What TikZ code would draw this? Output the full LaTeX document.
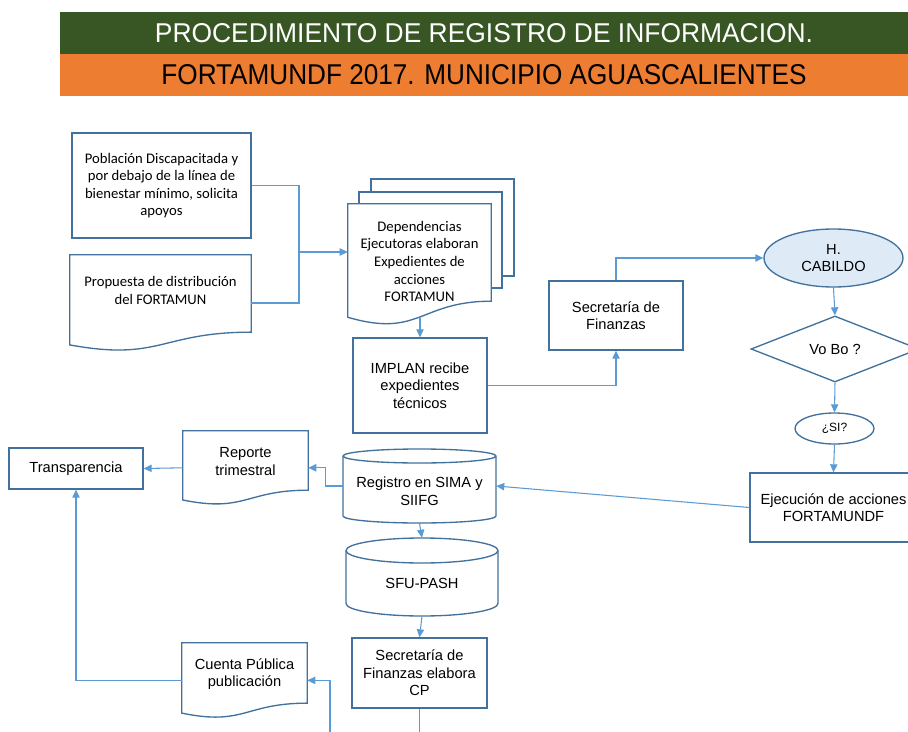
\documentclass[tikz,border=0pt]{standalone}
\usepackage{graphicx}
\usepackage{fontspec}
\setmainfont{Liberation Sans}
\newfontfamily\calfont{Carlito}
\usetikzlibrary{arrows.meta,calc,shapes.geometric}
\definecolor{bline}{HTML}{41719C}
\definecolor{cline}{HTML}{5B9BD5}
\definecolor{bgreen}{HTML}{375623}
\definecolor{borange}{HTML}{ED7D31}
\definecolor{cabfill}{HTML}{DEEBF7}
\newcommand\docshape[1]{\path[outline] (#1.north west) -- (#1.north east) -- ($(#1.north east)!0.802!(#1.south east)$) .. controls ($(#1.north)!0.802!(#1.south)$) and ($(#1.north)!1.107!(#1.south)$) .. ($(#1.north west)!0.934!(#1.south west)$) -- cycle;}
\newcommand\cylshape[5]{%
  \path[outline] (#1-#4,#2+#5) -- (#1-#4,#3-#5) arc[start angle=180,end angle=360,x radius=#4*0.75pt,y radius=#5*0.75pt] -- (#1+#4,#2+#5) arc[start angle=0,end angle=180,x radius=#4*0.75pt,y radius=#5*0.75pt] -- cycle;
  \draw[draw=bline,line width=1pt] (#1-#4,#2+#5) arc[start angle=180,end angle=360,x radius=#4*0.75pt,y radius=#5*0.75pt];}
\begin{document}
\begin{tikzpicture}[x=0.75pt,y=-0.75pt,
  sz/.style 2 args={minimum width=#1*0.75pt, minimum height=#2*0.75pt},
  box/.style={draw=bline, line width=1pt, fill=white, inner sep=0pt, align=center, font=\fontsize{11}{13.2}\selectfont},
  ghost/.style={inner sep=0pt, draw=none},
  outline/.style={draw=bline, line width=1pt, fill=white},
  txt/.style={inner sep=0pt, align=center, font=\fontsize{11}{13.2}\selectfont},
  caltxt/.style={inner sep=0pt, align=center, font=\calfont\fontsize{11}{13.2}\selectfont},
  conn/.style={draw=cline, line width=0.8pt},
  arr/.style={conn, -{Triangle[length=6pt,width=5.5pt]}},
  banner/.style={inner sep=0pt, sz={848}{42}},
]
\useasboundingbox (0,0) rectangle (908,732);
% header
\node[banner, fill=bgreen, text=white] (title) at (484,33) {\resizebox{493.5pt}{14.25pt}{PROCEDIMIENTO DE REGISTRO DE INFORMACION.}};
\node[banner, fill=borange, text=black] (subtitle) at (484,75) {\resizebox{483.75pt}{15pt}{FORTAMUNDF 2017. MUNICIPIO AGUASCALIENTES}};
% left inputs
\node[box, sz={179}{105}, font=\calfont\fontsize{11}{13.2}\selectfont] (pob) at (161.5,185.5) {Población Discapacitada y\\por debajo de la línea de\\bienestar mínimo, solicita\\apoyos};
\node[ghost, sz={181}{96}] (prop) at (160.5,303) {};
\docshape{prop}
\node[caltxt] (propt) at (160.5,290.5) {Propuesta de distribución\\del FORTAMUN};
% multidocument
\draw[outline] (371,179) rectangle (514,276);
\draw[outline] (359,192) rectangle (502,288);
\node[ghost, sz={143}{121}] (dep) at (419.5,264.5) {};
\docshape{dep}
\node[caltxt] (dept) at (419.5,261.5) {Dependencias\\Ejecutoras elaboran\\Expedientes de\\acciones\\FORTAMUN};
% IMPLAN and Secretaria
\node[box, sz={134}{95}] (implan) at (420,385.5) {IMPLAN recibe\\expedientes\\técnicos};
\node[box, sz={134}{69}] (secf) at (616,315.5) {Secretaría de\\Finanzas};
% right column
\node[box, ellipse, fill=cabfill, sz={139}{58}] (cab) at (833.5,258) {H.\\CABILDO};
\node[box, diamond, sz={168}{66}] (vobo) at (835,349) {Vo Bo ?};
\node[box, ellipse, sz={79}{31}, font=\fontsize{9}{11}\selectfont] (si) at (834.5,428.5) {¿SI?};
\node[box, sz={167}{69}] (ejec) at (833.5,507.5) {Ejecución de acciones\\FORTAMUNDF};
% Registro cylinder
\node[ghost, sz={153}{74}] (reg) at (419.5,486) {};
\cylshape{419.5}{449}{523}{76.5}{7}
\node[txt] (regt) at (419.5,491.5) {Registro en SIMA y\\SIIFG};
% SFU cylinder
\node[ghost, sz={152}{78}] (sfu) at (422,577) {};
\cylshape{422}{538}{616}{76}{12.5}
\node[txt] (sfut) at (422,583) {SFU-PASH};
% CP
\node[box, sz={135}{70}] (cp) at (419.5,673) {Secretaría de\\Finanzas elabora\\CP};
% reports
\node[ghost, sz={125}{73.6}] (rep) at (245.5,467.8) {};
\docshape{rep}
\node[txt] (rept) at (245.5,461.5) {Reporte\\trimestral};
\node[box, sz={134}{41}] (transp) at (76,468.5) {Transparencia};
\node[ghost, sz={125}{74.8}] (cuenta) at (244.5,680.4) {};
\docshape{cuenta}
\node[txt] (cuentat) at (244.5,674) {Cuenta Pública\\publicación};
% connectors
\coordinate (jn) at (299,252);
\draw[conn] (pob.east) -| (jn);
\draw[conn] (prop.east) -| (jn);
\draw[arr] (jn) -- (jn -| dep.west);
\coordinate (depb) at ($(dep.north)!0.933!(dep.south)$);
\draw[arr] (implan.north |- depb) -- (implan.north);
\draw[arr] (implan.east) -| (secf.south);
\draw[arr] (secf.north) |- (cab.west);
\draw[arr] (cab.south) -- (vobo.north);
\draw[arr] (vobo.south) -- (si.north);
\draw[arr] (si.south) -- (ejec.north);
\draw[arr] (ejec.west) -- (reg.east);
\draw[arr] (reg.west) -- ++(-17,0) |- (rep.east);
\draw[arr] (rep.west) -- (transp.east);
\draw[arr] (reg.south) -- (sfu.north);
\draw[arr] (sfu.south) -- (cp.north);
\coordinate (cpout) at (419.5,732);
\draw[conn] (cp.south) -- (cpout);
\coordinate (cpin) at (330,732);
\draw[arr] (cpin) |- (cuenta.east);
\draw[arr] (cuenta.west) -| (transp.south);
\end{tikzpicture}
\end{document}
